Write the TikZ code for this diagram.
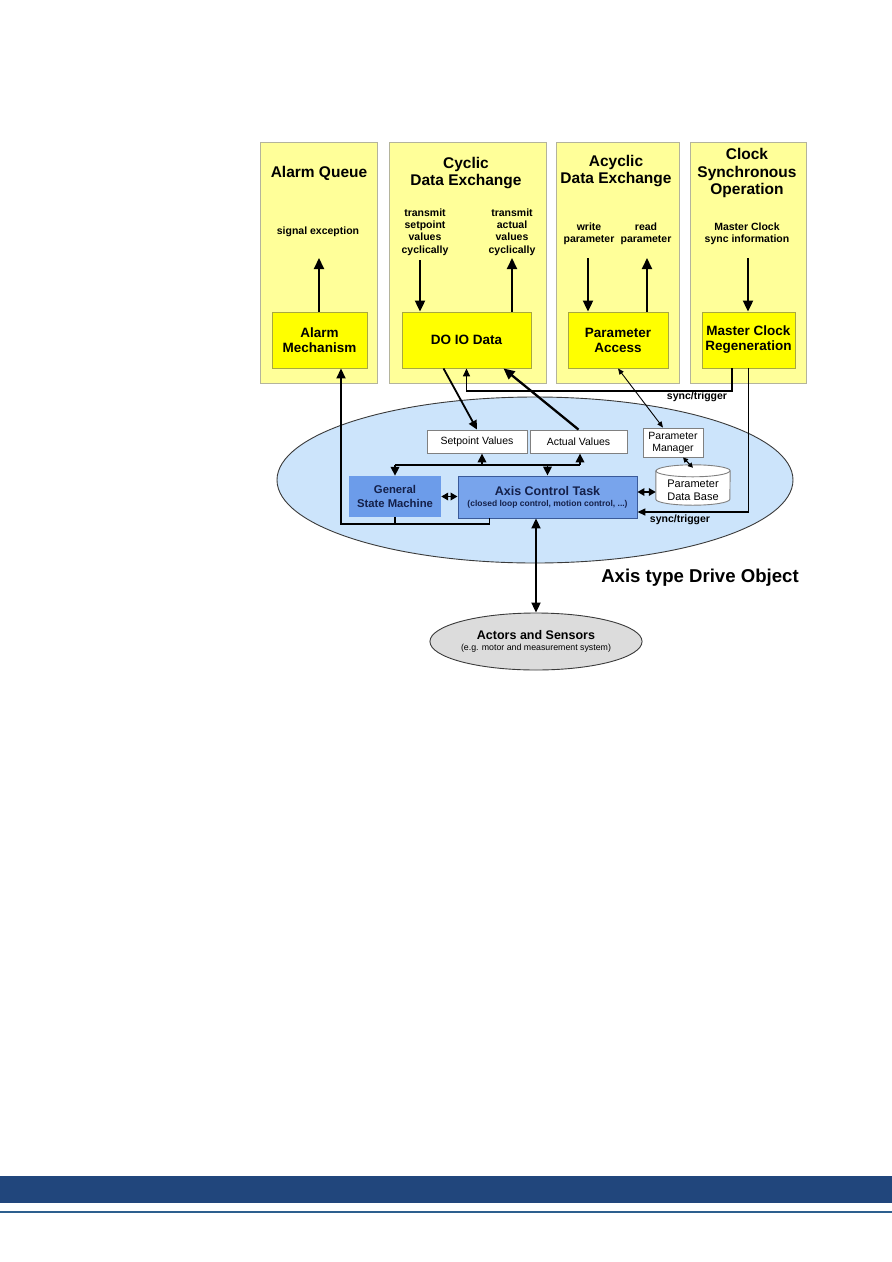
\documentclass[tikz,border=0pt]{standalone}
\usepackage{fontspec}
\newfontfamily\arial{Liberation Sans}
\usetikzlibrary{arrows.meta,shapes.geometric}
\definecolor{ylight}{HTML}{FFFF99}
\definecolor{ygray}{HTML}{B4B49C}
\definecolor{ybright}{HTML}{FFFF00}
\definecolor{yolive}{HTML}{A8A840}
\definecolor{ellfill}{HTML}{CCE4FB}
\definecolor{ellline}{HTML}{3A3A3A}
\definecolor{gsmfill}{HTML}{6C9CEA}
\definecolor{actfill}{HTML}{78A4EC}
\definecolor{actline}{HTML}{3A5A9A}
\definecolor{navytext}{HTML}{14204A}
\definecolor{boxgray}{HTML}{808080}
\definecolor{actorfill}{HTML}{DCDCDC}
\definecolor{footblue}{HTML}{21467C}
\definecolor{footline}{HTML}{2D5F8E}
\tikzset{
  outerbox/.style={draw=ygray, fill=ylight, line width=0.9pt, minimum height=241, inner sep=0},
  innerbox/.style={draw=yolive, fill=ybright, line width=0.9pt, minimum height=56, inner sep=0,
    font=\arial\bfseries\fontsize{13.5}{15}\selectfont, align=center},
  titletext/.style={font=\arial\bfseries\fontsize{15.5}{17.5}\selectfont, align=center, inner sep=0},
  subtext/.style={font=\arial\bfseries\fontsize{10.5}{12.2}\selectfont, align=center, inner sep=0},
  whitebox/.style={draw=boxgray, fill=white, line width=0.9pt, inner sep=0,
    font=\arial\fontsize{10.5}{12}\selectfont, align=center},
  bluebox/.style={inner sep=0, align=center, text=navytext},
  arr/.style={line width=2.1pt, -{Triangle[length=11pt,width=10pt]}},
  sarr/.style={line width=1.8pt, -{Triangle[length=9pt,width=8.5pt]}},
  darr/.style={line width=1.8pt, {Triangle[length=7pt,width=7.5pt]}-{Triangle[length=7pt,width=7.5pt]}},
  tarr/.style={line width=0.9pt, {Triangle[length=6pt,width=5pt]}-{Triangle[length=6pt,width=5pt]}},
  lbl/.style={font=\arial\bfseries\fontsize{10.5}{12}\selectfont, inner sep=0},
}
\begin{document}
\begin{tikzpicture}[x=1pt,y=-1pt]
\useasboundingbox (0,0) rectangle (892,1262);

% ---------- upper yellow panels ----------
\node[outerbox, minimum width=117] (aq)  at (318.5,262.5) {};
\node[outerbox, minimum width=157] (cde) at (467.5,262.5) {};
\node[outerbox, minimum width=123] (ade) at (617.5,262.5) {};
\node[outerbox, minimum width=116] (cso) at (748,262.5) {};

\node[titletext] (taq)  at (319,173) {Alarm Queue};
\node[titletext] (tcde) at (466,173) {Cyclic\\Data Exchange};
\node[titletext] (tade) at (616,171) {Acyclic\\Data Exchange};
\node[titletext] (tcso) at (747,173) {Clock\\Synchronous\\Operation};

\node[subtext] (sigex) at (318,232) {signal exception};
\node[subtext] (tsp) at (425,232) {transmit\\setpoint\\values\\cyclically};
\node[subtext] (tav) at (512,232) {transmit\\actual\\values\\cyclically};
\node[subtext] (wp) at (589,233.5) {write\\parameter};
\node[subtext] (rp) at (646,233.5) {read\\parameter};
\node[subtext] (mcs) at (747,233.5) {Master Clock\\sync information};

\node[innerbox, minimum width=95]  (am)  at (319.5,340) {Alarm\\Mechanism};
\node[innerbox, minimum width=129] (dio) at (466.5,340) {DO IO Data};
\node[innerbox, minimum width=100] (pa)  at (618,340) {Parameter\\Access};
\node[innerbox, minimum width=93]  (mcr) at (748.5,340) {Master Clock\\Regeneration};

\coordinate (c1) at (319,258);
\coordinate (c2) at (420,260);
\coordinate (c3) at (512,258);
\coordinate (c4) at (588,258);
\coordinate (c5) at (647,258);
\coordinate (c6) at (748,258);
\draw[arr] (c1 |- am.north) -- (c1);
\draw[arr] (c2) -- (c2 |- dio.north);
\draw[arr] (c3 |- dio.north) -- (c3);
\draw[arr] (c4) -- (c4 |- pa.north);
\draw[arr] (c5 |- pa.north) -- (c5);
\draw[arr] (c6) -- (c6 |- mcr.north);

% ---------- drive object ellipse ----------
\node[ellipse, draw=ellline, fill=ellfill, line width=0.9pt, minimum width=516, minimum height=166, inner sep=0] (ado) at (535,480) {};
\node[font=\arial\bfseries\fontsize{18.6}{20}\selectfont, inner sep=0] (adot) at (700,578) {Axis type Drive Object};

\node[whitebox, minimum width=100, minimum height=23] (sv) at (477,441.5) {Setpoint Values};
\node[whitebox, minimum width=97, minimum height=23] (av) at (578.5,441.5) {Actual Values};
\node[whitebox, minimum width=60, minimum height=29, font=\arial\fontsize{10.5}{12}\selectfont] (pm) at (673,442.5) {Parameter\\Manager};

% cylinder
\node[minimum width=74, minimum height=40, inner sep=0] (pdb) at (693,485) {};
\draw[draw=boxgray, fill=white, line width=0.9pt]
  ([yshift=-6pt]pdb.north west) -- ([yshift=6pt]pdb.south west)
  arc[start angle=180, end angle=360, x radius=37pt, y radius=6pt]
  -- ([yshift=-6pt]pdb.north east)
  arc[start angle=0, end angle=180, x radius=37pt, y radius=6pt] -- cycle;
\draw[draw=boxgray, line width=0.9pt] ([yshift=-6pt]pdb.north west)
  arc[start angle=180, end angle=360, x radius=37pt, y radius=6pt];
\node[font=\arial\fontsize{11}{12.5}\selectfont, align=center, inner sep=0] (pdbt) at (693,490.5) {Parameter\\Data Base};

\node[bluebox, fill=gsmfill, minimum width=92, minimum height=41,
  font=\arial\bfseries\fontsize{11.3}{14}\selectfont] (gsm) at (395,496.5) {General\\State Machine};
\node[bluebox, fill=actfill, draw=actline, line width=0.9pt, minimum width=179, minimum height=42] (act) at (547.5,497)
  {{\arial\bfseries\fontsize{12.5}{14}\selectfont Axis Control Task}\\[-1pt]{\arial\bfseries\fontsize{8.5}{10}\selectfont (closed loop control, motion control, ...)}};

% actors and sensors
\node[ellipse, draw=ellline, fill=actorfill, line width=0.9pt, minimum width=202, minimum height=57, inner sep=0, align=center] (actors) at (536,641.5)
  {{\arial\bfseries\fontsize{12.5}{14}\selectfont Actors and Sensors}\\[-1pt]{\arial\fontsize{8.8}{10}\selectfont (e.g. motor and measurement system)}};

% ---------- connectors ----------
% bus inside ellipse
\coordinate (busL) at (395,465);
\coordinate (busR) at (580,465);
\coordinate (b2) at (482,465);
\draw[line width=1.8pt] (busL) -- (busR);
\draw[sarr] (busL) -- (gsm.north);
\draw[sarr] (b2) -- (b2 |- sv.south);
\draw[sarr] (busL -| act.north) -- (act.north);
\draw[sarr] (busR) -- (busR |- av.south);

\draw[darr] (gsm.east) -- (gsm.east -| act.west);
\draw[darr] ([yshift=5pt]act.east) -- ([yshift=5pt]act.east -| pdb.west);
\draw[line width=1.2pt, {Triangle[length=5pt,width=5pt]}-{Triangle[length=5pt,width=5pt]}] ([xshift=10pt]pm.south) -- ([yshift=-3pt]pdb.north);

% feedback to alarm mechanism
\coordinate (fb) at (341,524);
\draw[line width=1.8pt] (gsm.south) -- (gsm.south |- fb);
\draw[line width=1.8pt, -{Triangle[length=10pt,width=9pt]}] ([xshift=32pt]act.south west) |- (fb) -- (fb |- am.south);

% DO IO data links
\draw[sarr] ([xshift=-23pt]dio.south) -- (sv.north);
\draw[line width=2.3pt, -{Triangle[length=11pt,width=10pt]}] (av.north) -- ([xshift=37pt]dio.south);
\draw[tarr] ([xshift=-10pt]pm.north) -- (pa.south);

% sync/trigger 1
\coordinate (st1) at (466.5,391);
\draw[line width=1.5pt, -{Triangle[length=8pt,width=7pt]}] ([xshift=-16.5pt]mcr.south) |- (st1) -- (dio.south);
\node[lbl] (sync1) at (697,397) {sync/trigger};

% sync/trigger 2
\draw[line width=1.5pt, -{Triangle[length=8pt,width=7pt]}] (mcr.south) |- ([yshift=-15pt]act.east);
\node[lbl] (sync2) at (680,520) {sync/trigger};

% actors link
\draw[line width=2pt, {Triangle[length=10pt,width=9pt]}-{Triangle[length=10pt,width=9pt]}] (actors.north) -- (actors.north |- act.south);

% ---------- footer ----------
\fill[footblue] (0,1176) rectangle (892,1203);
\draw[footline, line width=2.2pt] (0,1212) -- (892,1212);
\end{tikzpicture}
\end{document}
